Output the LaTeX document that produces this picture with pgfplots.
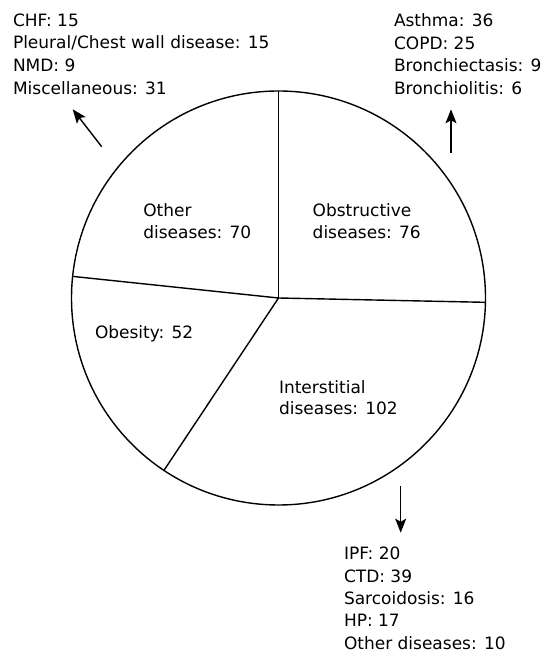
\documentclass[border=0pt]{standalone}
\usepackage{pgfplots}
\pgfplotsset{compat=1.18}
\usepackage{pgfplotstable}
\usepackage{fontspec}
\setmainfont{DejaVu Sans}
\usetikzlibrary{arrows.meta}

\pgfplotstableread{
group value
Obstructive 76
Interstitial 102
Obesity 52
Other 70
}\piedata

\begin{document}
\begin{tikzpicture}
\pgfplotstablegetelem{0}{value}\of\piedata \let\vA\pgfplotsretval
\pgfplotstablegetelem{1}{value}\of\piedata \let\vB\pgfplotsretval
\pgfplotstablegetelem{2}{value}\of\piedata \let\vC\pgfplotsretval
\pgfplotstablegetelem{3}{value}\of\piedata \let\vD\pgfplotsretval
\def\cx{278.5}\def\cy{355}\def\R{207}
\pgfmathsetmacro\tot{\vA+\vB+\vC+\vD}
\pgfmathsetmacro\aA{90}
\pgfmathsetmacro\aB{\aA-360*(\vA/\tot)}
\pgfmathsetmacro\aC{\aB-360*(\vB/\tot)}
\pgfmathsetmacro\aD{\aC-360*(\vC/\tot)}
\pgfmathsetmacro\xA{\cx+\R*cos(\aA)}\pgfmathsetmacro\yA{\cy+\R*sin(\aA)}
\pgfmathsetmacro\xB{\cx+\R*cos(\aB)}\pgfmathsetmacro\yB{\cy+\R*sin(\aB)}
\pgfmathsetmacro\xC{\cx+\R*cos(\aC)}\pgfmathsetmacro\yC{\cy+\R*sin(\aC)}
\pgfmathsetmacro\xD{\cx+\R*cos(\aD)}\pgfmathsetmacro\yD{\cy+\R*sin(\aD)}
\begin{axis}[
  scale only axis, width=544bp, height=653bp,
  xmin=0, xmax=544, ymin=0, ymax=653,
  hide axis, clip=false,
]
\path (axis cs:0,0) rectangle (axis cs:544,653);
\draw[line width=1.4bp] (axis cs:\cx,\cy) circle[radius=\R];
\addplot[black, line width=1.4bp, mark=none] coordinates {(\cx,\cy) (\xA,\yA)};
\addplot[black, line width=1.4bp, mark=none] coordinates {(\cx,\cy) (\xB,\yB)};
\addplot[black, line width=1.4bp, mark=none] coordinates {(\cx,\cy) (\xC,\yC)};
\addplot[black, line width=1.4bp, mark=none] coordinates {(\cx,\cy) (\xD,\yD)};

\tikzset{lbl/.style={anchor=base west, inner sep=0pt, outer sep=0pt, font=\fontsize{17bp}{20bp}\selectfont}}
% inner labels
\node[lbl] at (axis cs:143.3,436.3) {Other};
\node[lbl] at (axis cs:143.3,414.7) {diseases: 70};
\node[lbl] at (axis cs:312.7,436.3) {Obstructive};
\node[lbl] at (axis cs:312.7,414.7) {diseases: 76};
\node[lbl] at (axis cs:95,314.7) {Obesity: 52};
\node[lbl] at (axis cs:279,259.7) {Interstitial};
\node[lbl] at (axis cs:279,238) {diseases: 102};
% top-left block
\node[lbl] at (axis cs:13,626.7) {CHF: 15};
\node[lbl] at (axis cs:13,604) {Pleural/Chest wall disease: 15};
\node[lbl] at (axis cs:13,581.3) {NMD: 9};
\node[lbl] at (axis cs:13,558.6) {Miscellaneous: 31};
% top-right block
\node[lbl] at (axis cs:394,626.5) {Asthma: 36};
\node[lbl] at (axis cs:394,603.8) {COPD: 25};
\node[lbl] at (axis cs:394,581.1) {Bronchiectasis: 9};
\node[lbl] at (axis cs:394,558.4) {Bronchiolitis: 6};
% bottom block
\node[lbl] at (axis cs:344,93) {IPF: 20};
\node[lbl] at (axis cs:344,70.7) {CTD: 39};
\node[lbl] at (axis cs:344,48.4) {Sarcoidosis: 16};
\node[lbl] at (axis cs:344,26.1) {HP: 17};
\node[lbl] at (axis cs:344,3.8) {Other diseases: 10};
% arrows
\tikzset{arr/.style={line width=1.4bp, -{Stealth[length=14bp, width=11bp, inset=3bp]}}}
\draw[arr] (axis cs:101.7,506.3) -- (axis cs:72.7,543.7);
\draw[arr] (axis cs:451,500.3) -- (axis cs:451,543.7);
\draw[arr] (axis cs:400.7,167) -- (axis cs:400.7,120.3);
\end{axis}
\end{tikzpicture}
\end{document}
